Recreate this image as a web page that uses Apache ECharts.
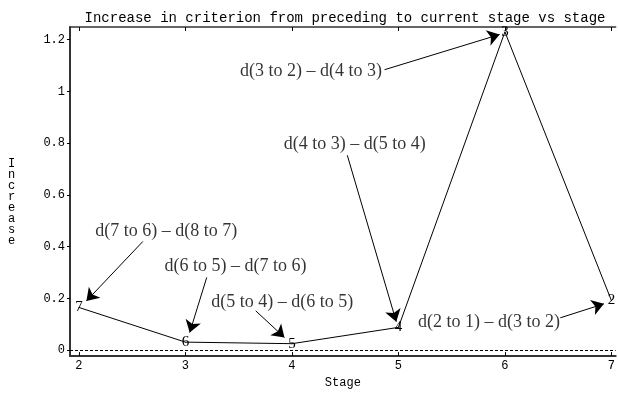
<!DOCTYPE html>
<html>
<head>
<meta charset="utf-8">
<script src="https://cdn.jsdelivr.net/npm/echarts@6/dist/echarts.min.js"></script>
<style>
  html, body { margin: 0; padding: 0; background: #fff; }
  #main { width: 618px; height: 394px; }
</style>
</head>
<body>
<div id="main"></div>
<script>
// stages on x, increase in criterion on y
const stages = [2, 3, 4, 5, 6, 7];
const increase = [0.165, 0.031, 0.025, 0.088, 1.23, 0.192];
// number of clusters written at each point
const pointLabels = ['7', '6', '5', '4', '3', '2'];

const xTicks = [2, 3, 4, 5, 6, 7];
const yTicks = [0, 0.2, 0.4, 0.6, 0.8, 1, 1.2];

// annotation text, where the text sits, and arrow from/to (data units)
const noteTexts = [
  'd(7 to 6) \u2013 d(8 to 7)',
  'd(6 to 5) \u2013 d(7 to 6)',
  'd(5 to 4) \u2013 d(6 to 5)',
  'd(4 to 3) \u2013 d(5 to 4)',
  'd(3 to 2) \u2013 d(4 to 3)',
  'd(2 to 1) \u2013 d(3 to 2)'
];
const notePos = [[2.82, 0.46], [3.47, 0.323], [3.91, 0.186], [4.59, 0.795], [4.18, 1.076], [5.85, 0.106]];
const arrowFrom = [[2.60, 0.42], [3.20, 0.281], [3.66, 0.152], [4.52, 0.753], [4.87, 1.084], [6.52, 0.125]];
const arrowTo = [[2.07, 0.19], [3.04, 0.068], [3.93, 0.049], [4.98, 0.11], [5.95, 1.22], [6.93, 0.179]];

const mono = '"Liberation Mono", "DejaVu Sans Mono", monospace';
const serif = '"Liberation Serif", "DejaVu Serif", serif';

var myChart = echarts.init(document.getElementById('main'));

const axisBase = {
  type: 'value',
  min: 1.916,
  max: 7.04,
  splitLine: { show: false }
};

myChart.setOption({
  animation: false,
  title: {
    text: 'Increase in criterion from preceding to current stage vs stage',
    left: 340,
    textAlign: 'center',
    top: 6,
    textStyle: { fontFamily: mono, fontSize: 14, fontWeight: 'normal', color: '#000' }
  },
  grid: { left: 70, right: 2, top: 27, bottom: 32 },
  xAxis: [
    Object.assign({}, axisBase, {
      position: 'bottom',
      name: 'Stage',
      nameLocation: 'middle',
      nameGap: 20,
      nameTextStyle: { fontFamily: mono, fontSize: 12, color: '#000' },
      axisLine: { onZero: false, lineStyle: { color: '#333', width: 2 } },
      axisTick: { inside: true, length: 4, customValues: xTicks, lineStyle: { color: '#000' } },
      axisLabel: { customValues: xTicks, fontFamily: mono, fontSize: 12, color: '#000', margin: 4 }
    }),
    Object.assign({}, axisBase, {
      position: 'top',
      axisLine: { onZero: false, lineStyle: { color: '#333', width: 1.5 } },
      axisTick: { inside: true, length: 4, customValues: xTicks, lineStyle: { color: '#000' } },
      axisLabel: { show: false }
    })
  ],
  yAxis: {
    type: 'value',
    min: -0.023,
    max: 1.249,
    splitLine: { show: false },
    axisLine: { show: true, onZero: false, lineStyle: { color: '#333', width: 2 } },
    axisTick: { show: true, length: 3, customValues: yTicks, lineStyle: { color: '#000' } },
    axisLabel: {
      customValues: yTicks, fontFamily: mono, fontSize: 12, color: '#000', margin: 5,
      formatter: v => String(Math.round(v * 10) / 10)
    }
  },
  graphic: [{
    type: 'text',
    left: 8,
    top: 158,
    style: {
      text: 'I\nn\nc\nr\ne\na\ns\ne',
      font: '12px ' + mono,
      lineHeight: 11,
      fill: '#000',
      align: 'center'
    }
  }],
  series: [
    {
      type: 'line',
      data: stages.map((s, i) => [s, increase[i]]),
      symbol: 'circle',
      symbolSize: 1,
      lineStyle: { color: '#000', width: 1 },
      itemStyle: { color: '#000' },
      label: {
        show: true,
        position: 'inside',
        formatter: p => pointLabels[p.dataIndex],
        fontFamily: serif,
        fontSize: 15,
        color: '#000'
      },
      markLine: {
        silent: true,
        symbol: 'none',
        label: { show: false },
        lineStyle: { color: '#000', type: [3, 2], width: 1 },
        data: [{ yAxis: 0 }]
      },
      z: 3
    },
    {
      type: 'lines',
      coordinateSystem: 'cartesian2d',
      polyline: false,
      symbol: ['none', 'arrow'],
      symbolSize: [0, 12],
      lineStyle: { color: '#000', width: 1, opacity: 1 },
      data: arrowFrom.map((f, i) => ({ coords: [f, arrowTo[i]] })),
      z: 4
    },
    {
      type: 'scatter',
      data: notePos,
      symbolSize: 0,
      label: {
        show: true,
        position: 'inside',
        formatter: p => noteTexts[p.dataIndex],
        fontFamily: serif,
        fontSize: 18,
        color: '#000'
      },
      z: 5
    }
  ]
});
</script>
</body>
</html>
